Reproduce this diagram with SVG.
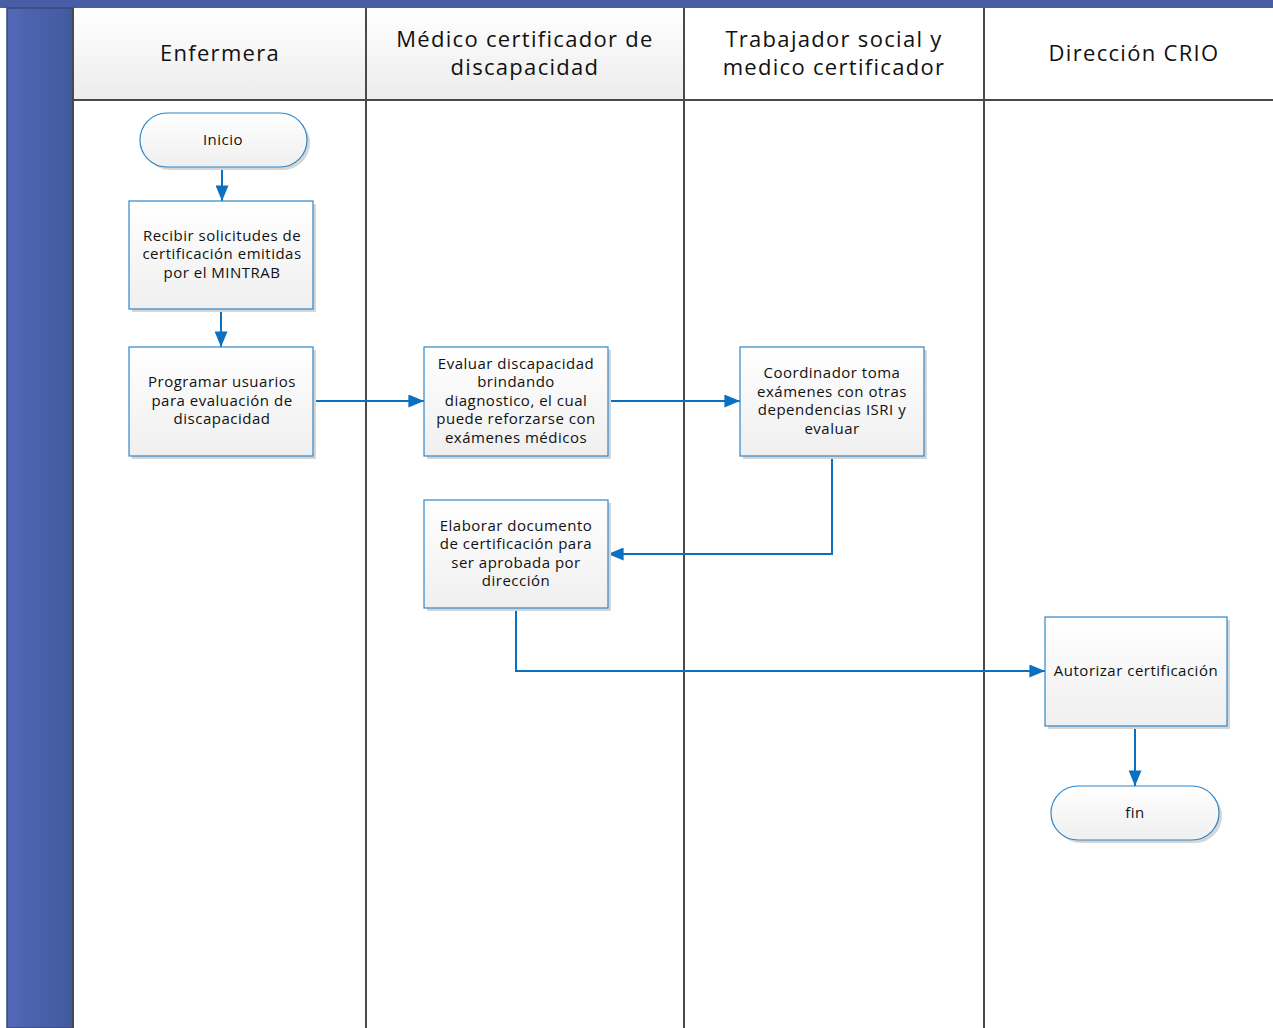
<svg xmlns="http://www.w3.org/2000/svg" width="1273" height="1028" viewBox="0 0 1273 1028">
  <defs>
    <linearGradient id="barGrad" x1="0" y1="0" x2="1" y2="0">
      <stop offset="0" stop-color="#5169b8"/>
      <stop offset="1" stop-color="#41599c"/>
    </linearGradient>
    <linearGradient id="headGrad" x1="0" y1="0" x2="0" y2="1">
      <stop offset="0" stop-color="#ffffff"/>
      <stop offset="1" stop-color="#ececec"/>
    </linearGradient>
    <linearGradient id="boxGrad" x1="0" y1="0" x2="0" y2="1">
      <stop offset="0" stop-color="#ffffff"/>
      <stop offset="1" stop-color="#efefef"/>
    </linearGradient>
    <marker id="arrowL" viewBox="0 0 12 10" refX="12" refY="5" markerWidth="16" markerHeight="13" markerUnits="userSpaceOnUse" orient="auto">
      <path d="M0,0 L12,5 L0,10 z" fill="#0a70c2"/>
    </marker>
  </defs>
  <style>
    .lane { stroke: #4a4a4a; stroke-width: 2; fill: none; }
    .head { font-family: "Open Sans", "Liberation Sans", sans-serif; font-size: 22px; letter-spacing: 1.3px; fill: #111; text-anchor: middle; }
    .box { fill: url(#boxGrad); stroke: #2f86c9; stroke-width: 1.2; }
    .shadow { fill: #d6d6d6; }
    .lbl { font-family: "Open Sans", "Liberation Sans", sans-serif; font-size: 15px; letter-spacing: 0.5px; fill: #111; text-anchor: middle; }
    .conn { fill: none; stroke: #0a70c2; stroke-width: 2; marker-end: url(#arrowL); }
  </style>

  <rect width="1273" height="1028" fill="#ffffff"/>

  <!-- pool frame -->
  <rect x="0" y="0" width="1273" height="8" fill="#475ea6"/>
  <rect x="7" y="8" width="66" height="1020" fill="url(#barGrad)" stroke="#3a4a78" stroke-width="1.5"/>

  <!-- lane headers -->
  <rect x="73" y="8" width="293" height="92" fill="url(#headGrad)"/>
  <rect x="366" y="8" width="318" height="92" fill="url(#headGrad)"/>
  <line class="lane" x1="73" y1="100" x2="1273" y2="100" stroke-width="1.5"/>
  <line class="lane" x1="73" y1="8" x2="73" y2="1028"/>
  <line class="lane" x1="366" y1="8" x2="366" y2="1028"/>
  <line class="lane" x1="684" y1="8" x2="684" y2="1028"/>
  <line class="lane" x1="984" y1="8" x2="984" y2="1028"/>

  <text class="head" x="220" y="61">Enfermera</text>
  <text class="head" x="525" y="47">Médico certificador de</text>
  <text class="head" x="525" y="75">discapacidad</text>
  <text class="head" x="834" y="47">Trabajador social y</text>
  <text class="head" x="834" y="75">medico certificador</text>
  <text class="head" x="1134" y="61">Dirección CRIO</text>

  <!-- connectors -->
  <g id="connectors">
    <path class="conn" d="M222,167 L222,201"/>
    <path class="conn" d="M221,309 L221,347"/>
    <path class="conn" d="M313,401 L424,401"/>
    <path class="conn" d="M608,401 L740,401"/>
    <path class="conn" d="M832,456 L832,554 L608,554"/>
    <path class="conn" d="M516,608 L516,671 L1045,671"/>
    <path class="conn" d="M1135,726 L1135,786"/>
  </g>

  <!-- nodes -->
  <g id="inicio">
    <rect class="shadow" x="143" y="116" width="167" height="54" rx="27"/>
    <rect class="box" x="140" y="113" width="167" height="54" rx="27"/>
    <text class="lbl" x="223" y="145">Inicio</text>
  </g>

  <g id="recibir">
    <rect class="shadow" x="132" y="204" width="184" height="108"/>
    <rect class="box" x="129" y="201" width="184" height="108"/>
    <text class="lbl" x="222" y="241">Recibir solicitudes de</text>
    <text class="lbl" x="222" y="259">certificación emitidas</text>
    <text class="lbl" x="222" y="278">por el MINTRAB</text>
  </g>

  <g id="programar">
    <rect class="shadow" x="132" y="350" width="184" height="109"/>
    <rect class="box" x="129" y="347" width="184" height="109"/>
    <text class="lbl" x="222" y="387">Programar usuarios</text>
    <text class="lbl" x="222" y="406">para evaluación de</text>
    <text class="lbl" x="222" y="424">discapacidad</text>
  </g>

  <g id="evaluar">
    <rect class="shadow" x="427" y="350" width="184" height="109"/>
    <rect class="box" x="424" y="347" width="184" height="109"/>
    <text class="lbl" x="516" y="369">Evaluar discapacidad</text>
    <text class="lbl" x="516" y="387">brindando</text>
    <text class="lbl" x="516" y="406">diagnostico, el cual</text>
    <text class="lbl" x="516" y="424">puede reforzarse con</text>
    <text class="lbl" x="516" y="443">exámenes médicos</text>
  </g>

  <g id="coordinador">
    <rect class="shadow" x="743" y="350" width="184" height="109"/>
    <rect class="box" x="740" y="347" width="184" height="109"/>
    <text class="lbl" x="832" y="378">Coordinador toma</text>
    <text class="lbl" x="832" y="397">exámenes con otras</text>
    <text class="lbl" x="832" y="415">dependencias ISRI y</text>
    <text class="lbl" x="832" y="434">evaluar</text>
  </g>

  <g id="elaborar">
    <rect class="shadow" x="427" y="503" width="184" height="108"/>
    <rect class="box" x="424" y="500" width="184" height="108"/>
    <text class="lbl" x="516" y="531">Elaborar documento</text>
    <text class="lbl" x="516" y="549">de certificación para</text>
    <text class="lbl" x="516" y="568">ser aprobada por</text>
    <text class="lbl" x="516" y="586">dirección</text>
  </g>

  <g id="autorizar">
    <rect class="shadow" x="1048" y="620" width="182" height="109"/>
    <rect class="box" x="1045" y="617" width="182" height="109"/>
    <text class="lbl" x="1136" y="676">Autorizar certificación</text>
  </g>

  <g id="fin">
    <rect class="shadow" x="1054" y="789" width="168" height="54" rx="27"/>
    <rect class="box" x="1051" y="786" width="168" height="54" rx="27"/>
    <text class="lbl" x="1135" y="818">fin</text>
  </g>
</svg>
